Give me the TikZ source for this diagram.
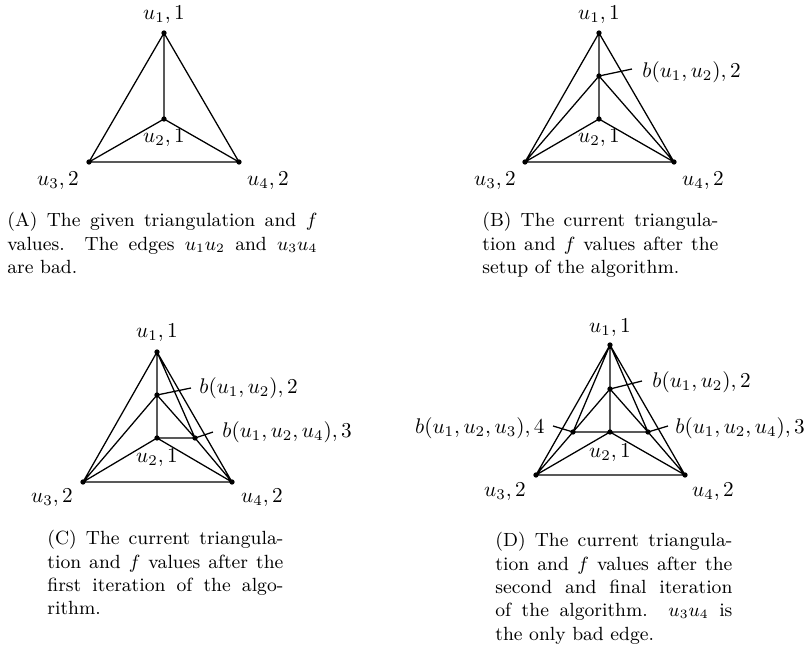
\documentclass[tikz,border=0pt]{standalone}
\begin{document}
\begin{tikzpicture}[x=0.4717pt,y=-0.4717pt,
  edge/.style={line width=0.6pt},
  dot/.style={circle,fill=black,inner sep=0pt,minimum size=2.5pt},
  lbl/.style={inner sep=0pt,font=\normalsize},
  captext/.style={anchor=north west,inner sep=0pt,align=justify,font=\small}]
\useasboundingbox (0,0) rectangle (811,649);

% ---------- Panel A ----------
\coordinate (a1) at (164,33);
\coordinate (a2) at (164,119);
\coordinate (a3) at (89,162);
\coordinate (a4) at (239,162);
\draw[edge] (a1) -- (a3) (a1) -- (a4) (a3) -- (a4) (a1) -- (a2) (a2) -- (a3) (a2) -- (a4);
\foreach \p in {a1,a2,a3,a4} \node[dot] at (\p) {};
\node[lbl] (la1) at (164,15) {$u_1,1$};
\node[lbl] (la2) at (164,138) {$u_2,1$};
\node[lbl] (la3) at (58,181) {$u_3,2$};
\node[lbl] (la4) at (268,181) {$u_4,2$};
\node[captext,text width=146.2pt] (capA) at (7,212) {(A) The given triangulation and $f$\linebreak values. The edges $u_1u_2$ and $u_3u_4$\linebreak are bad.};

% ---------- Panel B ----------
\coordinate (b1) at (599,33);
\coordinate (bb) at (599,76);
\coordinate (b2) at (599,119);
\coordinate (b3) at (525,162);
\coordinate (b4) at (674,162);
\draw[edge] (b1) -- (b3) (b1) -- (b4) (b3) -- (b4) (b1) -- (bb) (bb) -- (b2)
  (b2) -- (b3) (b2) -- (b4) (bb) -- (b3) (bb) -- (b4);
\foreach \p in {b1,bb,b2,b3,b4} \node[dot] at (\p) {};
\node[lbl] (lb1) at (599,15) {$u_1,1$};
\node[lbl] (lb2) at (599,138) {$u_2,1$};
\node[lbl] (lb3) at (495,181) {$u_3,2$};
\node[lbl] (lb4) at (703,181) {$u_4,2$};
\node[lbl,anchor=west] (lbb) at (642,72) {$b(u_1,u_2),2$};
\coordinate (tbb) at (632,69);
\draw[edge] (bb) -- (tbb);
\node[captext,text width=111.3pt] (capB) at (482,212) {(B) The current triangula-\linebreak tion and $f$ values after the\linebreak setup of the algorithm.};

% ---------- Panel C ----------
\coordinate (c1) at (157,352);
\coordinate (cb) at (157,395);
\coordinate (c2) at (157,438);
\coordinate (cc) at (195,438);
\coordinate (c3) at (83,482);
\coordinate (c4) at (232,482);
\draw[edge] (c1) -- (c3) (c1) -- (c4) (c3) -- (c4) (c1) -- (cb) (cb) -- (c2)
  (c2) -- (c3) (c2) -- (c4) (cb) -- (c3) (cb) -- (cc) (cc) -- (c4)
  (c1) -- (cc) (c2) -- (cc);
\foreach \p in {c1,cb,c2,cc,c3,c4} \node[dot] at (\p) {};
\node[lbl] (lc1) at (157,333) {$u_1,1$};
\node[lbl] (lc2) at (157,458) {$u_2,1$};
\node[lbl] (lc3) at (52,498) {$u_3,2$};
\node[lbl] (lc4) at (262,498) {$u_4,2$};
\node[lbl,anchor=west] (lcb) at (199,388) {$b(u_1,u_2),2$};
\node[lbl,anchor=west] (lcc) at (222,432) {$b(u_1,u_2,u_4),3$};
\coordinate (tcb) at (191,388);
\coordinate (tcc) at (213,432);
\draw[edge] (cb) -- (tcb) (cc) -- (tcc);
\node[captext,text width=111.3pt] (capC) at (47,530) {(C) The current triangula-\linebreak tion and $f$ values after the\linebreak first iteration of the algo-\linebreak rithm.};

% ---------- Panel D ----------
\coordinate (d1) at (610,345);
\coordinate (db) at (610,389);
\coordinate (d2) at (610,432);
\coordinate (dc) at (648,432);
\coordinate (dd) at (573,432);
\coordinate (d3) at (536,475);
\coordinate (d4) at (685,475);
\draw[edge] (d1) -- (d3) (d1) -- (d4) (d3) -- (d4) (d1) -- (db) (db) -- (d2)
  (d2) -- (d3) (d2) -- (d4) (db) -- (dd) (dd) -- (d3) (db) -- (dc) (dc) -- (d4)
  (d1) -- (dd) (d1) -- (dc) (dd) -- (d2) (d2) -- (dc);
\foreach \p in {d1,db,d2,dc,dd,d3,d4} \node[dot] at (\p) {};
\node[lbl] (ld1) at (610,328) {$u_1,1$};
\node[lbl] (ld2) at (610,453) {$u_2,1$};
\node[lbl] (ld3) at (505,492) {$u_3,2$};
\node[lbl] (ld4) at (713,492) {$u_4,2$};
\node[lbl,anchor=west] (ldb) at (652,382) {$b(u_1,u_2),2$};
\node[lbl,anchor=west] (ldc) at (675,428) {$b(u_1,u_2,u_4),3$};
\node[lbl,anchor=east] (ldd) at (545,428) {$b(u_1,u_2,u_3),4$};
\coordinate (tdb) at (642,381);
\coordinate (tdc) at (668,426);
\coordinate (tdd) at (553,426);
\draw[edge] (db) -- (tdb) (dc) -- (tdc) (dd) -- (tdd);
\node[captext,text width=111.8pt] (capD) at (495,532) {(D) The current triangula-\linebreak tion and $f$ values after the\linebreak second and final iteration\linebreak of the algorithm. $u_3u_4$ is\linebreak the only bad edge.};
\end{tikzpicture}
\end{document}
